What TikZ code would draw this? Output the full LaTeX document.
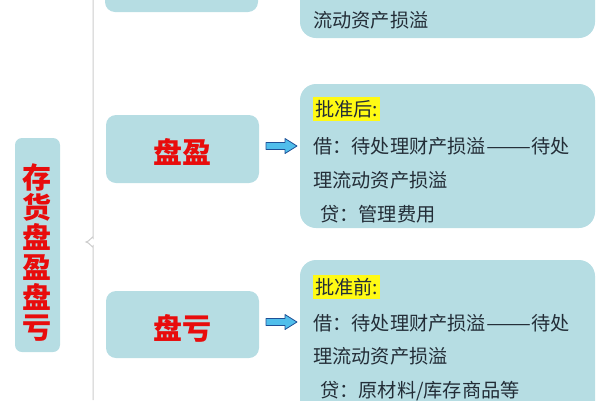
\documentclass[tikz,border=0pt]{standalone}
\usepackage{fontspec}
\setmainfont{Noto Sans CJK SC}
\newfontfamily\cjk{Noto Sans CJK SC}
\definecolor{boxfill}{RGB}{182,221,227}
\definecolor{txt}{RGB}{35,45,55}
\definecolor{redt}{RGB}{232,12,12}
\definecolor{arrfill}{RGB}{80,190,235}
\definecolor{arrline}{RGB}{30,80,150}
\definecolor{brace}{RGB}{205,205,205}
\definecolor{hl}{RGB}{255,250,20}
\tikzset{
  leftbox/.style={fill=boxfill, rounded corners=7pt},
  midbox/.style={fill=boxfill, rounded corners=10pt},
  rightbox/.style={fill=boxfill, rounded corners=16pt},
  redlabel/.style={text=redt, draw=none, font=\cjk\bfseries\fontsize{29}{30}\selectfont},
  line/.style={anchor=base west, inner sep=0pt, text=txt, font=\cjk\fontsize{19.2}{21}\selectfont},
  hlline/.style={line, fill=hl, inner xsep=2pt, inner ysep=3pt},
  blockarrow/.style={draw=arrline, fill=arrfill, line width=0.8pt, line join=round},
}
\newcommand{\blockarr}[1]{%
  \path[blockarrow] ($(#1)+(-15,-3.5)$) -- ($(#1)+(4,-3.5)$) -- ($(#1)+(4,-7.5)$) --
    ($(#1)+(16,0)$) -- ($(#1)+(4,7.5)$) -- ($(#1)+(4,3.5)$) -- ($(#1)+(-15,3.5)$) -- cycle;}
\newcommand{\longdash}{\scalebox{1.4}[1]{——}}
\usetikzlibrary{calc}
\begin{document}
\begin{tikzpicture}[x=1pt,y=-1pt]
\useasboundingbox (0,0) rectangle (600,400);
% brace
\draw[brace, line width=1pt] (93,0) -- (93,238) to[out=90,in=0] (86,242) to[out=0,in=-90] (93,246) -- (93,400);
% left box
\fill[leftbox] (15,138) rectangle (60,352);
\node[redlabel, align=center] (root) at (37.5,253) {存\\货\\盘\\盈\\盘\\亏};
% middle boxes
\fill[midbox] (105,-20) rectangle (258,12);
\fill[midbox] (106,115) rectangle (259,183);
\node[redlabel] (py) at (182,152) {盘盈};
\fill[midbox] (106,291) rectangle (259,358);
\node[redlabel] (pk) at (182,328) {盘亏};
% arrows
\coordinate (a1) at (281,146);
\coordinate (a2) at (281,322);
\blockarr{a1}
\blockarr{a2}
% right boxes
\fill[rightbox] (300,-30) rectangle (595,38);
\node[line] (t1) at (313,27) {流动资产损溢};
\fill[rightbox] (300,84) rectangle (595,228);
\node[hlline] (h1) at (313,116) {批准后:\hspace{24pt}};
\node[line] (l1) at (313,153) {借：待处理财产损溢\longdash 待处};
\node[line] (l2) at (313,187) {理流动资产损溢};
\node[line] (l3) at (320,221) {贷：管理费用};
\fill[rightbox] (300,260) rectangle (595,430);
\node[hlline] (h2) at (313,294) {批准前:\hspace{24pt}};
\node[line] (m1) at (313,330) {借：待处理财产损溢\longdash 待处};
\node[line] (m2) at (313,363) {理流动资产损溢};
\node[line] (m3) at (320,397) {贷：原材料/库存商品等};
\end{tikzpicture}
\end{document}
